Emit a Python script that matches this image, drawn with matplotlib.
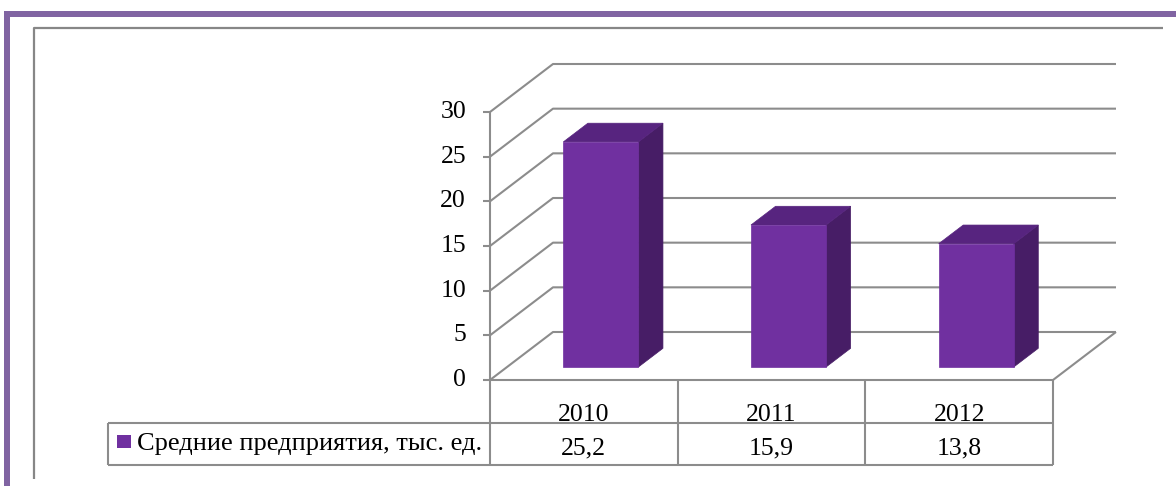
import matplotlib.pyplot as plt
from matplotlib.transforms import IdentityTransform
from matplotlib.patches import Polygon, Rectangle

# Данные
years = ['2010', '2011', '2012']
values = [25.2, 15.9, 13.8]
value_labels = ['25,2', '15,9', '13,8']
series_name = 'Средние предприятия, тыс. ед.'
yticks = [0, 5, 10, 15, 20, 25, 30]

plt.rcParams['font.family'] = ['Liberation Serif', 'DejaVu Serif']

W, H = 1176, 486
fig = plt.figure(figsize=(W / 100, H / 100), dpi=100)

# рамки слайда
bg = fig.add_axes([0, 0, 1, 1], zorder=-1)
bg.set_xlim(0, W)
bg.set_ylim(H, 0)
bg.axis('off')
bg.add_patch(Rectangle((4, 11), W, 6, color='#8064A2', lw=0))
bg.add_patch(Rectangle((4, 11), 6, H, color='#8064A2', lw=0))
bg.plot([34, 34, 1163], [479, 28, 28], color='#878787', lw=1.6, solid_capstyle='butt')

# передняя плоскость 3D-диаграммы
ax = fig.add_axes([490 / W, (H - 380) / H, (1053 - 490) / W, (380 - 112) / H])
ax.set_xlim(0, len(years))
ax.set_ylim(0, 30)
ax.axis('off')

DX, DY = 63, 48   # смещение задней стенки, пиксели
ID = IdentityTransform()
grid = dict(color='#8c8c8c', lw=1.5, clip_on=False, transform=ID, solid_capstyle='butt')


def proj(x, v, d=0.0):
    px, py = ax.transData.transform((x, v))
    return px + DX * d, py + DY * d


def line(pts, **kw):
    ax.plot([p[0] for p in pts], [p[1] for p in pts], **kw)


n = len(years)
# сетка: задняя стенка и боковая
for v in yticks:
    line([proj(0, v, 0), proj(0, v, 1), proj(n, v, 1)], **grid)
    px, py = proj(0, v, 0)
    line([(px - 7, py), (px, py)], **grid)
    ax.text(px - 24, py, str(v), transform=ID, ha='right', va='center', fontsize=18.5)
line([proj(0, 0, 0), proj(0, 30, 0)], **grid)
line([proj(0, 0, 0), proj(n, 0, 0), proj(n, 0, 1)], **grid)

# столбцы
d0, d1 = 0.27, 0.66
for i, v in enumerate(values):
    x0, x1 = i + 0.3, i + 0.7
    front = [proj(x0, 0, d0), proj(x1, 0, d0), proj(x1, v, d0), proj(x0, v, d0)]
    side = [proj(x1, 0, d0), proj(x1, 0, d1), proj(x1, v, d1), proj(x1, v, d0)]
    top = [proj(x0, v, d0), proj(x1, v, d0), proj(x1, v, d1), proj(x0, v, d1)]
    for pts, c in [(side, '#471D66'), (top, '#57247F'), (front, '#7030A0')]:
        ax.add_patch(Polygon(pts, closed=True, facecolor=c, edgecolor=c, lw=0.5,
                             transform=ID, clip_on=False, zorder=3))

# таблица данных
fx, fy = proj(0, 0, 0)
rx, _ = proj(n, 0, 0)
legend_x = 108
row1, row2 = fy - 43, fy - 85
line([(legend_x, row1), (rx, row1)], **grid)
line([(legend_x, row2), (rx, row2)], **grid)
line([(legend_x, row1), (legend_x, row2)], **grid)
for i in range(n + 1):
    cx, _ = proj(i, 0, 0)
    line([(cx, fy), (cx, row2)], **grid)
for i, (yr, lab) in enumerate(zip(years, value_labels)):
    cx, _ = proj(i + 0.5, 0, 0)
    ax.text(cx, fy - 41, yr, transform=ID, ha='center', va='baseline', fontsize=18.5)
    ax.text(cx, fy - 74, lab, transform=ID, ha='center', va='baseline', fontsize=18.5)

ax.add_patch(Rectangle((117, fy - 68), 14, 13, facecolor='#7030A0', lw=0,
                       transform=ID, clip_on=False))
ax.text(137, fy - 70, series_name, transform=ID, ha='left', va='baseline', fontsize=19)

fig.savefig('out.png', dpi=100)
